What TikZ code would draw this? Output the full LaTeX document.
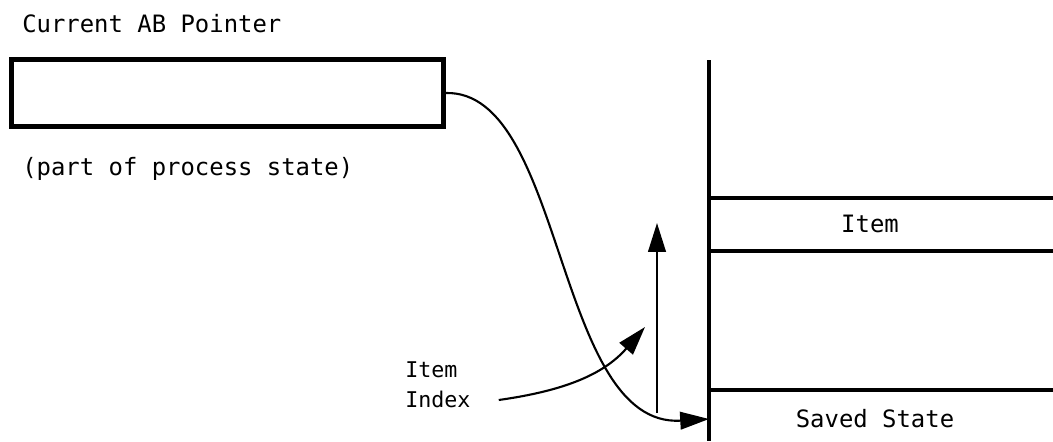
\documentclass[tikz,border=0pt]{standalone}
\usepackage{fontspec}
\setmonofont{DejaVu Sans Mono}
\usetikzlibrary{arrows.meta, positioning}

\tikzset{
  heavy/.style={line width=3.1pt},
  link/.style={line width=1.5pt, -{Triangle[length=0.72cm, width=0.44cm]}},
  label/.style={inner sep=0pt, font=\ttfamily\fontsize{17}{20}\selectfont}
}

\begin{document}
\begin{tikzpicture}[x=0.025cm, y=-0.025cm]

\useasboundingbox (0,0) rectangle (1053,441);

% --- Current AB pointer register ---
\node[draw, heavy, minimum width=10.8cm, minimum height=1.68cm] (ptr) at (227.5,93) {};
\node[label, anchor=base west] (ptrname) at (22,32) {Current AB Pointer};
\node[label, anchor=base west] (ptrnote) at (22,175) {(part of process state)};

% --- Stack ---
\coordinate (stacktop) at (709,60);
\coordinate (stackbot) at (709,441);
\draw[heavy] (stacktop) -- (stackbot);
\foreach \y in {198, 251, 390}
  \draw[heavy] (709,\y) -- (1053,\y);

\node[label] (item) at (870,224) {Item};
\node[label] (saved) at (875,419) {Saved State};

% --- Connectors ---
\coordinate (savedin) at (709,419);
\coordinate (idxfoot) at (657,413);
\coordinate (idxtop) at (657,223);
\draw[link] (ptr.east) .. controls (565,90) and (555,428) .. (savedin);
\draw[link] (idxfoot) -- (idxtop);

% Item Index label
\node[label, font=\ttfamily\fontsize{15.4}{21}\selectfont, align=left, anchor=south west] (idx) at (405,408) {Item\\Index};
\coordinate (idxtip) at (645,327);
\draw[link] ([xshift=0.7cm, yshift=0.2cm]idx.south east) to[out=8, in=229] (idxtip);

\end{tikzpicture}
\end{document}
